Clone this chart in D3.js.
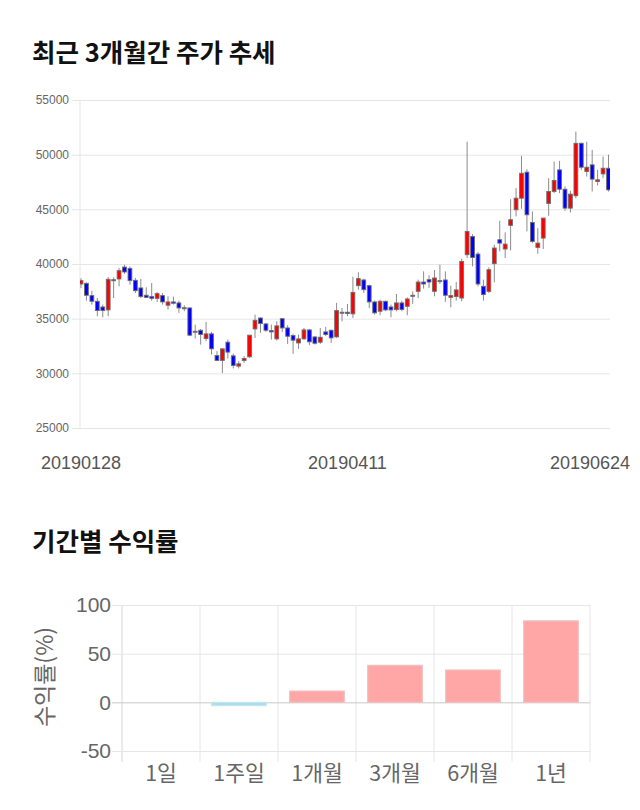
<!DOCTYPE html>
<html>
<head>
<meta charset="utf-8">
<script src="https://cdn.jsdelivr.net/npm/d3@7"></script>
<style>
  body { margin: 0; background: #fff; }
  svg text { font-family: "Liberation Sans", Arial, "Noto Sans CJK KR", sans-serif; }
  .title { font-family: "Noto Sans CJK KR", sans-serif !important; font-weight: 700; }
  .kr { font-family: "Noto Sans CJK KR", "Liberation Sans", sans-serif !important; }
</style>
</head>
<body>
<svg id="chart" width="640" height="810"></svg>
<script>
// daily candles, 2019-01-28 .. 2019-06-24
const opens = [38170,38230,37110,36590,36070,35800,38520,38630,39720,39600,
  38510,37810,37140,37020,36860,37110,36230,36530,36440,36000,
  35980,33850,33940,33180,33610,31630,31180,32850,31600,30660,
  31180,31510,34060,35060,34520,33910,33150,35000,34150,33460,
  32780,33150,33970,33330,32850,33790,33940,33330,35560,35590,
  35440,38020,38540,38020,36530,35680,36590,36070,35830,36440,
  36130,37100,37500,38350,38570,37500,38480,38540,36950,37020,
  36890,40850,42520,40910,37960,37500,40030,42220,41370,43530,
  44960,46020,48400,43800,41520,42370,45540,46630,48610,46840,
  45110,46240,51040,48460,49070,47550,48240,48760]
const highs = [38700,38320,37560,36890,36290,38810,38780,39630,39940,39780,
  38720,38630,37870,38260,37440,37350,37050,37020,36650,36230,
  36040,34460,34060,34700,33790,32030,32240,33090,31810,31120,
  31570,33490,35370,35120,34610,34460,34760,35060,34400,33610,
  33550,34150,34060,33390,34150,34250,34000,36440,35980,36350,
  38840,39240,38660,38110,36650,36740,36650,36290,37260,36650,
  36950,37500,38570,39330,38960,39450,39940,39330,38020,38350,
  40490,51190,42730,41090,38570,39700,41760,43950,42890,45930,
  46940,49890,48670,44810,43280,44200,47850,49370,49430,47090,
  46690,52110,51100,51190,50430,48610,49830,50000]
const lows = [37800,36650,36290,35220,35130,35220,36890,37960,39090,38110,
  37350,36890,36890,36650,36530,36290,35830,36290,35530,35680,
  33400,33180,32630,32940,31720,31120,30020,31360,30450,30450,
  30960,31420,33240,33700,33790,33090,33000,33790,32690,31780,
  32240,33090,32570,32630,32690,33400,32780,33240,34760,35220,
  35060,37650,37350,35980,35370,35310,35680,35130,35680,35680,
  35310,36350,36890,37750,37810,37050,38170,36530,36040,36650,
  36590,40540,39790,37960,36650,37350,38330,41150,40540,41240,
  44350,45050,42980,41910,40940,41370,44410,46480,46480,44870,
  44710,46020,48610,48000,46630,47180,47850,46630]
const closes = [38480,37140,36590,35740,35740,38600,38560,39390,39270,38480,
  37560,37020,36950,36860,37290,36530,36530,36410,35980,35950,
  33490,33800,33550,33610,32240,31180,32240,31940,30720,30870,
  31360,33490,34850,34550,33940,33790,34340,34150,33390,33030,
  33150,33970,32880,32750,33300,33550,33240,35740,35590,35470,
  37410,38660,37650,36530,35530,36590,35800,35800,36440,35830,
  36800,37140,38350,38170,38350,38720,38450,37140,37110,37630,
  40240,42980,40600,38170,37200,39480,41460,41910,41820,44050,
  46020,48300,44500,42070,41910,44200,46630,47640,46840,45110,
  46390,51040,48850,48850,47760,47700,48760,46780]

const priceTicks = [25000, 30000, 35000, 40000, 45000, 50000, 55000]
const dateLabels = ["20190128", "20190411", "20190624"]
const dateLabelIdx = [0, 49, 97]

// period returns (%)
const periods = ["1일", "1주일", "1개월", "3개월", "6개월", "1년"]
const returns = [0, -3.4, 11.6, 38, 33.2, 83.7]
const returnTicks = [-50, 0, 50, 100]

const svg = d3.select("#chart")

// ---------- titles
svg.append("text").attr("class", "title")
    .attr("x", 32).attr("y", 62)
    .attr("font-size", 25.5).attr("fill", "#111")
    .text("최근 3개월간 주가 추세")

svg.append("text").attr("class", "title")
    .attr("x", 32).attr("y", 551)
    .attr("font-size", 25.5).attr("fill", "#111")
    .text("기간별 수익률")

// ---------- candle chart
const candles = opens.map((o, i) => ({i, o, h: highs[i], l: lows[i], c: closes[i]}))

const x = d3.scaleLinear().domain([0, 97]).range([81, 608.5])
const y = d3.scaleLinear().domain([25000, 55000]).range([428, 100])

const gy = svg.append("g")
    .attr("transform", "translate(72,0)")
    .call(d3.axisLeft(y).tickValues(priceTicks).tickSize(-538).tickPadding(3).tickFormat(d => String(d)))
gy.select(".domain").remove()
gy.selectAll(".tick line").attr("stroke", "#e6e6e6")
gy.selectAll(".tick text").attr("fill", "#666").attr("font-size", 12)

svg.append("line")
    .attr("x1", 80).attr("x2", 80).attr("y1", 100).attr("y2", 428)
    .attr("stroke", "#e6e6e6")

svg.append("clipPath").attr("id", "plotclip")
    .append("rect").attr("x", 80).attr("y", 90).attr("width", 530).attr("height", 345)

const cg = svg.append("g").attr("clip-path", "url(#plotclip)")

cg.selectAll("line.wick")
    .data(candles)
    .join("line")
    .attr("class", "wick")
    .attr("x1", d => x(d.i)).attr("x2", d => x(d.i))
    .attr("y1", d => y(d.h)).attr("y2", d => y(d.l))
    .attr("stroke", "#8c8c8c")
    .attr("stroke-width", 1)

const bodyW = 3.8
cg.selectAll("rect.body")
    .data(candles)
    .join("rect")
    .attr("class", "body")
    .attr("x", d => x(d.i) - bodyW / 2)
    .attr("width", bodyW)
    .attr("y", d => y(Math.max(d.o, d.c)))
    .attr("height", d => Math.max(1, Math.abs(y(d.o) - y(d.c))))
    .attr("fill", d => Math.abs(d.c - d.o) < 60 ? "#333366" : (d.c > d.o ? "#ff0000" : "#0000ff"))
    .attr("stroke", "#6e6e6e")
    .attr("stroke-width", 0.9)

svg.selectAll("text.date")
    .data(dateLabels)
    .join("text")
    .attr("class", "date")
    .attr("y", 469)
    .attr("font-size", 18)
    .attr("fill", "#555")
    .attr("text-anchor", "middle")
    .text(d => d)
    .attr("x", function (d, k) {
        const w = this.getComputedTextLength()
        let cx = x(dateLabelIdx[k])
        if (cx + w / 2 > 630) cx = 630 - w / 2
        return cx
    })

// ---------- returns bar chart
const bx = d3.scaleBand().domain(periods).range([122, 590]).paddingInner(0.3).paddingOuter(0.15)
const by = d3.scaleLinear().domain([-50, 100]).range([751, 605])

const step = bx.step()
const edges = d3.range(periods.length + 1).map(k => 122 + k * step)
svg.selectAll("line.vgrid")
    .data(edges)
    .join("line")
    .attr("class", "vgrid")
    .attr("x1", d => d).attr("x2", d => d)
    .attr("y1", 605).attr("y2", 762)
    .attr("stroke", (d, k) => k === 0 ? "#d6d6d6" : "#e6e6e6")

const gby = svg.append("g")
    .attr("transform", "translate(112,0)")
    .call(d3.axisLeft(by).tickValues(returnTicks).tickSize(-478).tickPadding(1).tickFormat(d => String(d)))
gby.select(".domain").remove()
gby.selectAll(".tick line").attr("stroke", d => d === 0 ? "#c8c8c8" : "#e6e6e6")
gby.selectAll(".tick text").attr("fill", "#666").attr("font-size", 21)

svg.selectAll("rect.ret")
    .data(periods)
    .join("rect")
    .attr("class", "ret")
    .attr("x", d => bx(d))
    .attr("width", bx.bandwidth())
    .attr("y", (d, k) => by(Math.max(0, returns[k])))
    .attr("height", (d, k) => Math.abs(by(returns[k]) - by(0)))
    .attr("fill", (d, k) => returns[k] < 0 ? "#aadeea" : "#ffa6a6")
    .attr("stroke", (d, k) => returns[k] < 0 ? "#c4e6ee" : "#efc0c0")
    .attr("stroke-width", 1.2)

svg.selectAll("text.period")
    .data(periods)
    .join("text")
    .attr("class", "period kr")
    .attr("x", d => bx(d) + bx.bandwidth() / 2)
    .attr("y", 781)
    .attr("text-anchor", "middle")
    .attr("font-size", 21.5)
    .attr("fill", "#666")
    .text(d => d)

svg.append("text")
    .attr("class", "kr")
    .attr("transform", "translate(53,677) rotate(-90)")
    .attr("text-anchor", "middle")
    .attr("font-size", 23)
    .attr("fill", "#666")
    .text("수익률(%)")
</script>
</body>
</html>
